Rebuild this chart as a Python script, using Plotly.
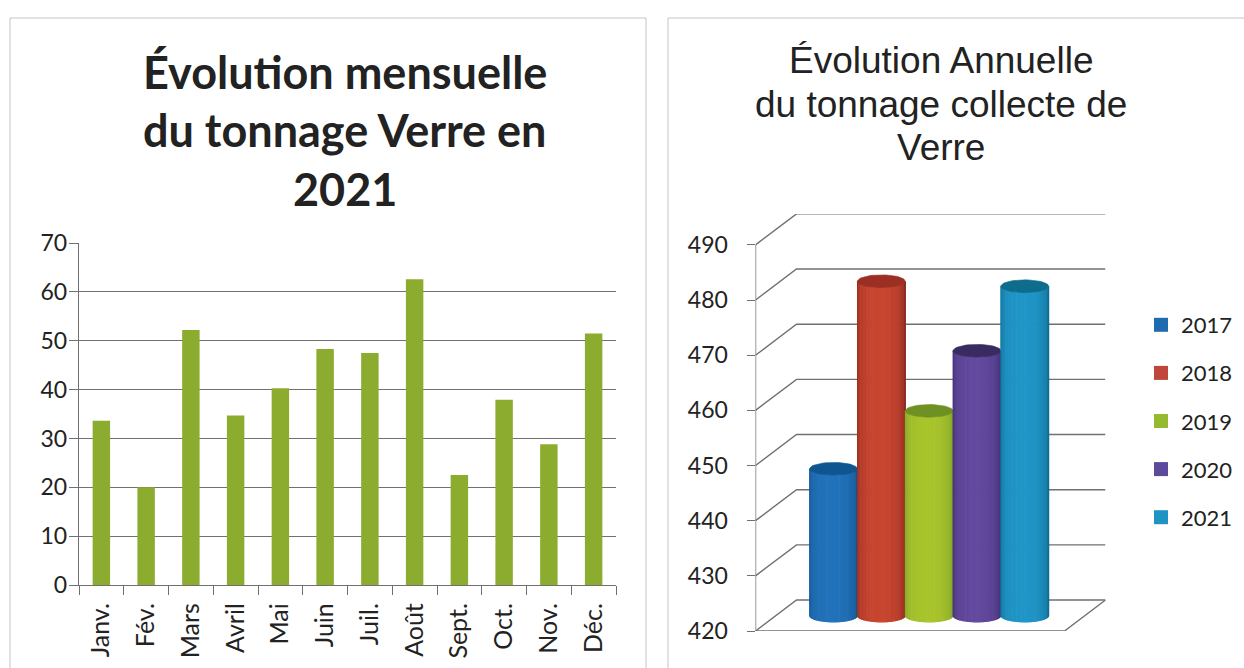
import plotly.graph_objects as go
import numpy as np

W, H = 1244, 668

months = ["Janv.", "Fév.", "Mars", "Avril", "Mai", "Juin", "Juil.", "Août", "Sept.", "Oct.", "Nov.", "Déc."]
tonnage_2021 = [33.6, 20.0, 52.2, 34.7, 40.3, 48.3, 47.5, 62.6, 22.5, 37.9, 28.8, 51.5]
month_ticks = [0, 10, 20, 30, 40, 50, 60, 70]

years = ["2017", "2018", "2019", "2020", "2021"]
annual_tonnage = [446.6, 480.6, 457.1, 468.0, 479.7]
annual_ticks = [420, 430, 440, 450, 460, 470, 480, 490]

left_title = ["Évolution mensuelle", "du tonnage Verre en", "2021"]
right_title = ["Évolution Annuelle", "du tonnage collecte de", "Verre"]

centre_colors = ["#2273bb", "#c8452f", "#a9c52c", "#63499f", "#2096c8"]
edge_colors = ["#114f8c", "#8a2a20", "#7d9e28", "#3d2c6e", "#106c96"]
top_colors = ["#0f5590", "#9b2f24", "#6f9022", "#392a60", "#0e6d8c"]
legend_colors = ["#1f6bb0", "#c0453a", "#94bb2f", "#5d4a9b", "#1f93c4"]

BAR_GREEN = "#8cac30"
GRID = "#707070"
TEXT = "#222222"
FRAME = "#c4c4c4"

# 3D-look projection of the right chart, expressed in its own axis units
DEPTH_X = 0.858
DEPTH_Y = 5.62
HALF_W = 0.50
HALF_H = 1.15
X_MIN, X_MAX = -1.632, 5.69
FRONT_RIGHT = 4.833
Y_MIN, Y_MAX = 420, 495.6


def hex_rgb(c):
    return np.array([int(c[i:i + 2], 16) for i in (1, 3, 5)], float)


def mix(a, b, t):
    r = hex_rgb(a) * (1 - t) + hex_rgb(b) * t
    return "rgb(%d,%d,%d)" % tuple(r)


def px_x(p):
    return p / W


def px_y(p):
    return 1 - p / H


fig = go.Figure()

fig.add_trace(go.Bar(x=months, y=tonnage_2021, width=0.39, marker=dict(color=BAR_GREEN, line=dict(width=0)),
                     xaxis="x", yaxis="y", showlegend=False))

# right chart: gridlines on the back wall and the side wall
line = dict(color=GRID, width=1.4)
for t in annual_ticks:
    fig.add_trace(go.Scatter(x=[X_MIN, X_MIN + DEPTH_X, X_MAX], y=[t, t + DEPTH_Y, t + DEPTH_Y], mode="lines",
                             line=line, xaxis="x2", yaxis="y2", showlegend=False, cliponaxis=False, hoverinfo="skip"))
fig.add_trace(go.Scatter(x=[X_MIN, X_MIN], y=[annual_ticks[0], annual_ticks[-1]], mode="lines", line=line,
                         xaxis="x2", yaxis="y2", showlegend=False, cliponaxis=False, hoverinfo="skip"))
fig.add_trace(go.Scatter(x=[X_MIN, FRONT_RIGHT, X_MAX], y=[420, 420, 420 + DEPTH_Y], mode="lines", line=line,
                         xaxis="x2", yaxis="y2", showlegend=False, cliponaxis=False, hoverinfo="skip"))

# cylinders
N = 26
angles = np.linspace(-np.pi / 2, np.pi / 2, N + 1)
for i, v in enumerate(annual_tonnage):
    base = 420 + DEPTH_Y / 2
    top = v + DEPTH_Y / 2
    for k in range(N):
        a = np.linspace(angles[k], angles[k + 1], 3)
        xs = i + HALF_W * np.sin(a)
        low = base - HALF_H * np.cos(a)
        high = top - HALF_H * np.cos(a)
        shade = abs((angles[k] + angles[k + 1]) / 2 + 0.1) / (np.pi / 2)
        col = mix(centre_colors[i], edge_colors[i], min(1, shade) ** 2.2)
        fig.add_trace(go.Scatter(x=np.r_[xs, xs[::-1]], y=np.r_[low, high[::-1]], mode="lines", fill="toself",
                                 fillcolor=col, line=dict(color=col, width=1.2), xaxis="x2", yaxis="y2",
                                 showlegend=False, hoverinfo="skip"))
    th = np.linspace(0, 2 * np.pi, 50)
    fig.add_trace(go.Scatter(x=i + HALF_W * np.cos(th), y=top + HALF_H * np.sin(th), mode="lines", fill="toself",
                             fillcolor=top_colors[i], line=dict(color=top_colors[i], width=0.6), xaxis="x2",
                             yaxis="y2", showlegend=False, hoverinfo="skip"))

# legend
for i, y in enumerate(years):
    fig.add_trace(go.Scatter(x=[None], y=[None], mode="markers", name=y, legendgroup=y,
                             marker=dict(symbol="square", size=14, color=legend_colors[i]),
                             xaxis="x2", yaxis="y2"))

frames = [dict(type="rect", xref="paper", yref="paper", x0=px_x(10), x1=px_x(646), y0=px_y(680), y1=px_y(18),
               line=dict(color=FRAME, width=1), layer="below"),
          dict(type="rect", xref="paper", yref="paper", x0=px_x(668), x1=px_x(1260), y0=px_y(680), y1=px_y(18),
               line=dict(color=FRAME, width=1), layer="below")]

notes = []
for text, yp in zip(left_title, [72, 130, 189]):
    notes.append(dict(text="<b>%s</b>" % text, xref="paper", yref="paper", x=px_x(345), y=px_y(yp),
                      xanchor="center", yanchor="middle", showarrow=False,
                      font=dict(family="Lato", size=45, color=TEXT)))
for text, yp in zip(right_title, [60, 104, 147]):
    notes.append(dict(text=text, xref="paper", yref="paper", x=px_x(941), y=px_y(yp),
                      xanchor="center", yanchor="middle", showarrow=False,
                      font=dict(family="Liberation Sans", size=37, color=TEXT)))

fig.update_layout(
    width=W, height=H, margin=dict(l=0, r=0, t=0, b=0, autoexpand=False), paper_bgcolor="white",
    plot_bgcolor="rgba(0,0,0,0)",
    font=dict(family="Lato", size=22, color=TEXT), shapes=frames, bargap=0.6,
    xaxis=dict(domain=[px_x(79), px_x(616)], type="category", tickson="boundaries", ticks="outside", ticklen=9,
               tickcolor=GRID, showline=True, linecolor=GRID, linewidth=1.4, tickangle=-90, showgrid=False,
               ticklabelstandoff=7, tickfont=dict(family="Lato", size=25, color=TEXT)),
    yaxis=dict(domain=[px_y(585), px_y(243)], range=[0, 70.01], tickvals=month_ticks, ticks="outside", ticklen=9,
               tickcolor=GRID, showline=True, linecolor=GRID, linewidth=1.4, showgrid=True, gridcolor=GRID,
               gridwidth=1.4, zeroline=False, ticklabelstandoff=-3,
               tickfont=dict(family="Lato", size=23, color=TEXT)),
    xaxis2=dict(domain=[px_x(755.5), px_x(1105.5)], range=[X_MIN, X_MAX], visible=False, anchor="y2"),
    yaxis2=dict(domain=[px_y(631), px_y(214)], range=[Y_MIN, Y_MAX], tickvals=annual_ticks, ticks="outside",
                ticklen=8, tickcolor=GRID, showgrid=False, showline=False, zeroline=False, anchor="x2",
                ticklabelstandoff=14, tickfont=dict(family="Lato", size=23, color=TEXT)),
    legend=dict(x=px_x(1141), y=px_y(304), xanchor="left", yanchor="top", tracegroupgap=16.5,
                font=dict(family="Lato", size=22, color=TEXT), bgcolor="rgba(0,0,0,0)", itemclick=False),
    annotations=notes,
)

fig.write_html("out.html", config={"displayModeBar": False},
               post_script="document.body.style.margin='0';document.body.style.overflow='hidden';")
